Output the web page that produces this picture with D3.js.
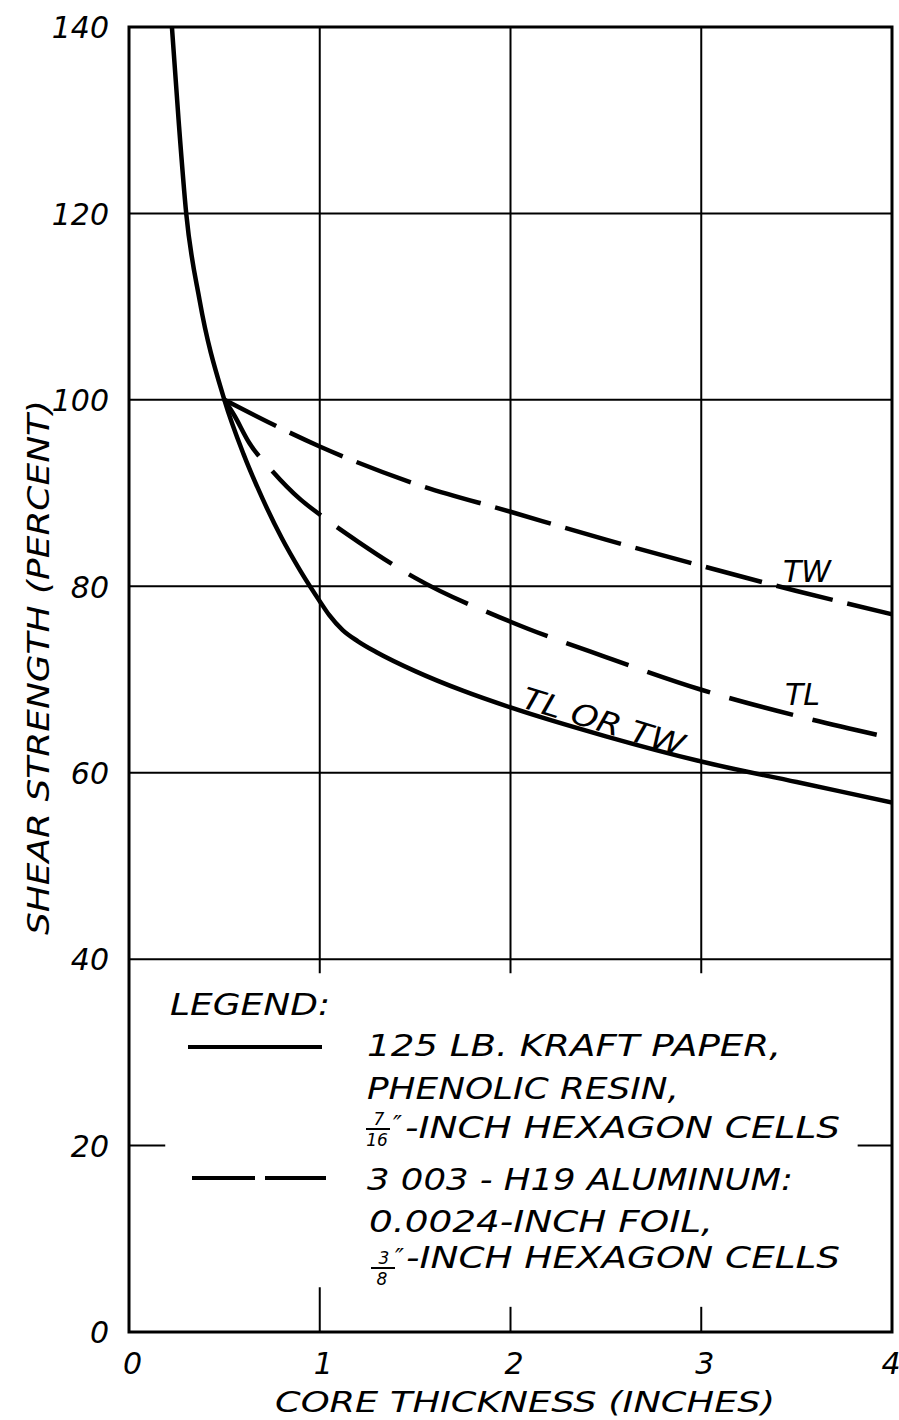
<!DOCTYPE html>
<html>
<head>
<meta charset="utf-8">
<script src="https://cdn.jsdelivr.net/npm/d3@7"></script>
<style>
  html, body { margin: 0; padding: 0; background: #fff; }
  svg { display: block; }
  text { font-family: "DejaVu Sans", sans-serif; font-style: oblique; fill: #000; }
</style>
</head>
<body>
<svg id="chart" width="899" height="1420"></svg>
<script>
// Axis ticks
const xTicks = [0, 1, 2, 3, 4];
const yTicks = [0, 20, 40, 60, 80, 100, 120, 140];

// Core thickness (inches)
const paperX = [0.225, 0.26, 0.30, 0.37, 0.50, 0.60, 0.70, 0.80, 0.90, 1.0, 1.05, 1.12, 1.2, 1.3, 1.5, 1.75, 2.0, 2.5, 3.0, 3.5, 4.0];
// 125 lb kraft paper, phenolic resin — shear strength (percent), TL or TW
const paperY = [140, 130, 120, 110.7, 100, 94.2, 89.4, 85.2, 81.6, 78.4, 76.9, 75.3, 74.1, 72.9, 70.9, 68.8, 67.0, 63.9, 61.2, 59.0, 56.8];

// 3003-H19 aluminum, TW direction
const alTwX = [0.5, 0.75, 1.0, 1.5, 2.0, 2.5, 3.0, 3.5, 4.0];
const alTwY = [100, 97.4, 95.0, 91.0, 88.0, 85.0, 82.2, 79.5, 77.0];

// 3003-H19 aluminum, TL direction
const alTlX = [0.5, 0.55, 0.63, 0.75, 0.9, 1.0, 1.2, 1.5, 2.0, 2.5, 3.0, 3.5, 4.0];
const alTlY = [100, 98.4, 95.4, 92.4, 89.3, 87.7, 84.8, 80.9, 76.2, 72.4, 68.9, 66.1, 63.7];

const svg = d3.select("#chart");

const x = d3.scaleLinear().domain([0, 4]).range([129, 892]);
const y = d3.scaleLinear().domain([0, 140]).range([1332, 27]);

// Horizontal grid lines (the legend box keeps the 20 line to short stubs)
const grid = svg.append("g").attr("stroke", "#000").attr("stroke-width", 2).attr("fill", "none");
[40, 60, 80, 100, 120].forEach(v => {
  grid.append("line").attr("x1", x(0)).attr("x2", x(4)).attr("y1", y(v)).attr("y2", y(v));
});
grid.append("line").attr("x1", x(0)).attr("x2", x(0.19)).attr("y1", y(20)).attr("y2", y(20));
grid.append("line").attr("x1", x(3.82)).attr("x2", x(4)).attr("y1", y(20)).attr("y2", y(20));

// Vertical grid lines stop just under 40; short stubs rise from the x axis
[1, 2, 3].forEach(v => {
  grid.append("line").attr("x1", x(v)).attr("x2", x(v)).attr("y1", y(140)).attr("y2", y(38.5));
});
[[1, 4.8], [2, 2.7], [3, 2.7]].forEach(([v, h]) => {
  grid.append("line").attr("x1", x(v)).attr("x2", x(v)).attr("y1", y(0)).attr("y2", y(h));
});

// Frame
svg.append("rect")
  .attr("x", x(0)).attr("y", y(140))
  .attr("width", x(4) - x(0)).attr("height", y(0) - y(140))
  .attr("fill", "none").attr("stroke", "#000").attr("stroke-width", 3);

// Axes (labels only; the frame draws the lines)
const xAxis = svg.append("g").attr("transform", `translate(3,${y(0)})`)
  .call(d3.axisBottom(x).tickValues(xTicks).tickSize(0).tickPadding(0).tickFormat(d3.format("d")));
xAxis.select(".domain").remove();
xAxis.selectAll("text").attr("dy", null).attr("y", 42).attr("font-size", 30)
  .style("font-family", "DejaVu Sans").style("font-style", "oblique");
// last label is pulled in so it stays on the page
xAxis.selectAll(".tick").filter(d => d === 4).select("text").attr("text-anchor", "end").attr("x", 5);

const yAxis = svg.append("g").attr("transform", `translate(${x(0)},0)`)
  .call(d3.axisLeft(y).tickValues(yTicks).tickSize(0).tickPadding(20).tickFormat(d3.format("d")));
yAxis.select(".domain").remove();
yAxis.selectAll("text").attr("dy", "0.36em").attr("font-size", 30)
  .style("font-family", "DejaVu Sans").style("font-style", "oblique");

// Axis titles
svg.append("text")
  .attr("x", 275).attr("y", 1412)
  .attr("font-size", 29).attr("textLength", 500).attr("lengthAdjust", "spacingAndGlyphs")
  .text("CORE THICKNESS (INCHES)");

svg.append("text")
  .attr("transform", "translate(49,935) rotate(-90)")
  .attr("font-size", 30).attr("textLength", 535).attr("lengthAdjust", "spacingAndGlyphs")
  .text("SHEAR STRENGTH (PERCENT)");

// Curves
svg.append("clipPath").attr("id", "plot-clip")
  .append("rect").attr("x", x(0)).attr("y", y(140)).attr("width", x(4) - x(0)).attr("height", y(0) - y(140));

const line = d3.line().x(d => x(d[0])).y(d => y(d[1])).curve(d3.curveMonotoneX);
const curves = svg.append("g").attr("clip-path", "url(#plot-clip)")
  .attr("fill", "none").attr("stroke", "#000").attr("stroke-width", 4.5).attr("stroke-linecap", "butt");

curves.append("path").attr("d", line(d3.zip(paperX, paperY)));
curves.append("path").attr("d", line(d3.zip(alTwX, alTwY))).attr("stroke-dasharray", "58 15");
curves.append("path").attr("d", line(d3.zip(alTlX, alTlY))).attr("stroke-dasharray", "66 20");

// Curve labels
svg.append("text").attr("x", 783).attr("y", 582).attr("font-size", 30).text("TW");
svg.append("text").attr("x", 785).attr("y", 705).attr("font-size", 30).text("TL");
svg.append("text").attr("transform", "translate(520,707) rotate(17)")
  .attr("font-size", 30).attr("textLength", 168).attr("lengthAdjust", "spacingAndGlyphs")
  .text("TL OR TW");

// Legend
const legend = svg.append("g");
legend.append("text").attr("x", 170).attr("y", 1015).attr("font-size", 30)
  .attr("textLength", 160).attr("lengthAdjust", "spacingAndGlyphs").text("LEGEND:");

legend.append("line").attr("x1", 188).attr("x2", 322).attr("y1", 1047).attr("y2", 1047)
  .attr("stroke", "#000").attr("stroke-width", 4);
legend.append("line").attr("x1", 192).attr("x2", 326).attr("y1", 1178).attr("y2", 1178)
  .attr("stroke", "#000").attr("stroke-width", 4).attr("stroke-dasharray", "63 10");

function legendLine(txt, x0, yb, w) {
  legend.append("text").attr("x", x0).attr("y", yb).attr("font-size", 30)
    .attr("textLength", w).attr("lengthAdjust", "spacingAndGlyphs").text(txt);
}
// Stacked fraction: numerator, bar, denominator
function fraction(num, den, cx, top) {
  legend.append("text").attr("x", cx + 1).attr("y", top + 13).attr("font-size", 17)
    .attr("text-anchor", "middle").text(num);
  legend.append("text").attr("x", cx - 1).attr("y", top + 34).attr("font-size", 17)
    .attr("text-anchor", "middle").text(den);
  legend.append("line").attr("x1", cx - 12).attr("x2", cx + 12).attr("y1", top + 17).attr("y2", top + 17)
    .attr("stroke", "#000").attr("stroke-width", 2);
}
function inchMark(x0, yb) {
  legend.append("text").attr("x", x0).attr("y", yb).attr("font-size", 24).text("\u2033");
}

legendLine("125 LB. KRAFT PAPER,", 367, 1056, 414);
legendLine("PHENOLIC RESIN,", 367, 1099, 312);
fraction("7", "16", 378, 1112);
inchMark(393, 1133);
legendLine("-INCH HEXAGON CELLS", 405, 1138, 435);
legendLine("3 003 - H19 ALUMINUM:", 367, 1190, 426);
legendLine("0.0024-INCH FOIL,", 369, 1232, 344);
fraction("3", "8", 383, 1251);
inchMark(395, 1266);
legendLine("-INCH HEXAGON CELLS", 406, 1268, 434);
</script>
</body>
</html>
